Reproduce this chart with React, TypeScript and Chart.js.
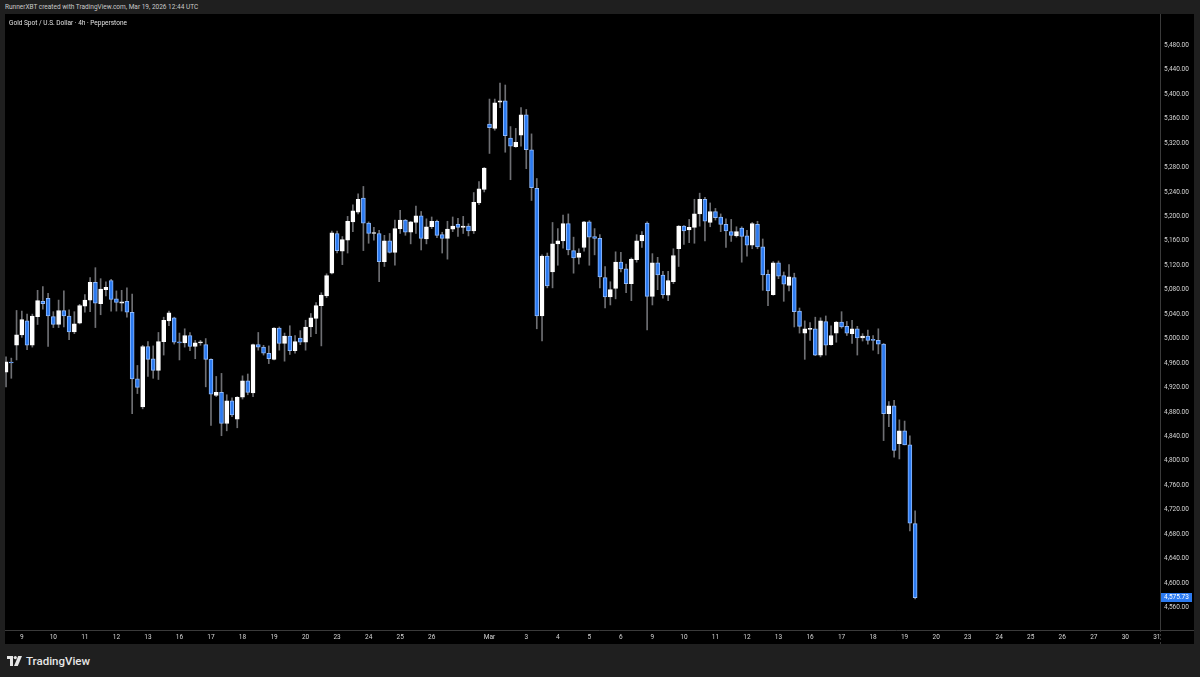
import React, { useEffect, useRef } from 'react';
import { Chart, registerables } from 'chart.js';

Chart.register(...registerables);

// ---- Data (4h candles, Feb 6 – Mar 19, 2026) ----
const opens = [
  4945, 4961.5, 4989, 5006, 5029, 4989, 5036, 5061, 5066, 5036,
  5023, 5046, 5037, 5011, 5025, 5053, 5063, 5092, 5057, 5080,
  5095, 5065, 5058, 5061, 5043, 4934, 4888, 4987, 4967, 4948,
  4995, 5029, 5034, 4994, 4993, 5005, 4987, 4993, 4990, 4966,
  4907, 4912, 4861, 4898, 4868, 4904, 4931, 4911, 4990, 4986,
  4976, 4966, 5017, 4992, 5004, 4980, 5001, 4994, 5019, 5033,
  5054, 5070, 5107, 5172, 5143, 5161, 5191, 5207, 5230, 5189,
  5172, 5172, 5126, 5160, 5141, 5180, 5194, 5174, 5190, 5201,
  5163, 5183, 5192, 5170, 5164, 5179, 5187, 5182, 5184, 5176,
  5222, 5244, 5351, 5344, 5387, 5389, 5328, 5314, 5333, 5366,
  5309, 5246, 5037, 5135, 5109, 5155, 5160, 5188, 5144, 5133,
  5149, 5191, 5167, 5164, 5100, 5068, 5082, 5125, 5114, 5090,
  5129, 5160, 5189, 5069, 5124, 5104, 5071, 5093, 5147, 5184,
  5178, 5182, 5204, 5228, 5190, 5208, 5199, 5187, 5175, 5168,
  5181, 5168, 5153, 5187, 5150, 5105, 5072, 5124, 5103, 5087,
  5100, 5045, 5009, 5015, 5016, 4973, 5028, 4990, 5009, 5027,
  5020, 5008, 5016, 5001, 5004, 4998, 4997, 4991, 4877, 4890,
  4828, 4849, 4826, 4697,
];
const highs = [
  4970, 4968, 5046, 5045, 5040, 5040, 5079, 5085, 5074, 5044,
  5063, 5078, 5047, 5044, 5056, 5072, 5100, 5116, 5098, 5093,
  5097, 5078, 5079, 5083, 5073, 4956, 4989, 4995, 4988, 5010,
  5035, 5045, 5035, 5009, 5016, 5010, 4997, 4997, 5000, 4967,
  4938, 4943, 4908, 4903, 4905, 4939, 4942, 4991, 5010, 4989,
  4988, 5018, 5019, 5009, 5021, 5005, 5013, 5030, 5041, 5059,
  5075, 5106, 5176, 5176, 5167, 5200, 5219, 5237, 5249, 5191,
  5182, 5177, 5169, 5172, 5194, 5210, 5195, 5192, 5217, 5208,
  5196, 5199, 5194, 5174, 5192, 5199, 5197, 5200, 5188, 5239,
  5257, 5280, 5392, 5392, 5418, 5415, 5347, 5344, 5378, 5375,
  5335, 5262, 5137, 5140, 5190, 5180, 5202, 5204, 5166, 5147,
  5192, 5193, 5180, 5170, 5118, 5093, 5142, 5141, 5122, 5132,
  5170, 5175, 5191, 5139, 5133, 5110, 5110, 5147, 5185, 5185,
  5195, 5228, 5238, 5231, 5222, 5213, 5204, 5196, 5195, 5183,
  5183, 5177, 5190, 5192, 5163, 5112, 5126, 5127, 5109, 5121,
  5107, 5050, 5029, 5026, 5035, 5034, 5037, 5021, 5028, 5044,
  5028, 5030, 5020, 5008, 5014, 5005, 5016, 4992, 4897, 4899,
  4867, 4865, 4841, 4718,
];
const lows = [
  4921, 4935, 4965, 5002, 4982, 4986, 5023, 5048, 4987, 5018,
  5018, 5019, 4998, 5008, 5024, 5043, 5044, 5018, 5039, 5070,
  5045, 5045, 5045, 5035, 4877, 4910, 4885, 4938, 4935, 4933,
  4973, 5021, 4991, 4965, 4986, 4980, 4967, 4989, 4921, 4858,
  4905, 4841, 4849, 4872, 4854, 4901, 4908, 4905, 4981, 4973,
  4959, 4965, 4981, 4963, 4974, 4976, 4990, 4981, 5003, 5008,
  4988, 5067, 5106, 5140, 5121, 5140, 5175, 5204, 5144, 5156,
  5161, 5093, 5118, 5140, 5120, 5172, 5169, 5155, 5172, 5145,
  5155, 5180, 5165, 5140, 5130, 5175, 5167, 5172, 5168, 5172,
  5219, 5240, 5303, 5341, 5378, 5305, 5260, 5313, 5315, 5278,
  5226, 5016, 4996, 5083, 5083, 5120, 5148, 5137, 5107, 5122,
  5143, 5120, 5137, 5083, 5050, 5055, 5065, 5109, 5075, 5062,
  5125, 5149, 5014, 5055, 5080, 5066, 5062, 5090, 5118, 5154,
  5157, 5156, 5184, 5160, 5183, 5194, 5175, 5149, 5159, 5166,
  5125, 5135, 5147, 5147, 5079, 5054, 5071, 5098, 5061, 5078,
  5019, 5009, 4966, 4997, 4972, 4970, 4973, 4989, 4994, 5017,
  5005, 4992, 4973, 4996, 4991, 4981, 4975, 4833, 4856, 4806,
  4803, 4826, 4685, 4574,
];
const closes = [
  4962, 4960, 5006, 5031, 4989, 5037, 5062, 5057, 5037, 5023,
  5046, 5037, 5011, 5024, 5054, 5063, 5092, 5058, 5081, 5084,
  5064, 5059, 5060, 5043, 4934, 4920, 4987, 4966, 4948, 4995,
  5030, 5042, 4994, 4993, 5005, 4987, 4993, 4993.5, 4966, 4909,
  4912, 4861, 4898, 4875, 4904, 4931, 4912, 4990, 4986, 4976,
  4967, 5017, 4992, 5004, 4980, 4995, 4994, 5019, 5034, 5054,
  5071, 5103, 5173, 5144, 5162, 5192, 5209, 5228, 5189, 5172,
  5172.5, 5126, 5160, 5141, 5180, 5194, 5174, 5191, 5201, 5164,
  5183, 5192, 5169, 5164, 5179, 5184, 5182, 5184, 5176, 5223,
  5245, 5279, 5345, 5386, 5389, 5332, 5315, 5321, 5366, 5309,
  5247, 5037, 5135, 5086, 5155, 5160, 5188, 5145, 5132, 5140,
  5191, 5166, 5164, 5101, 5068, 5080, 5125, 5114, 5090, 5130,
  5160, 5169, 5069, 5124, 5104, 5072, 5095, 5136, 5184, 5176,
  5182, 5204, 5228, 5192, 5208, 5198, 5187, 5176, 5169, 5175,
  5167, 5153, 5188, 5150, 5104, 5078, 5124, 5102, 5089, 5101,
  5044, 5020, 5016, 5016.5, 4973, 5029, 4989, 5005, 5027, 5019,
  5009, 5016, 5001, 5004, 4997, 4997, 4991, 4877, 4890, 4817,
  4849, 4826, 4698, 4575.73,
];

// time-axis ticks: bar index of the first bar of each labelled day
const dayTickIndex = [
  3, 9, 15, 21, 27, 33, 39, 45, 51, 57, 63, 69, 75, 81,
  92, 99, 105, 111, 117, 123, 129, 135, 141, 147, 153, 159, 165, 171,
  177, 183, 189, 195, 201, 207, 213, 219,
];
const dayTickLabels = [
  '9', '10', '11', '12', '13', '16', '17', '18', '19', '20', '23', '24', '25', '26',
  'Mar', '3', '4', '5', '6', '9', '10', '11', '12', '13', '16', '17', '18', '19',
  '20', '23', '24', '25', '26', '27', '30', '31',
];
const priceTicks = [
  4560, 4600, 4640, 4680, 4720, 4760, 4800, 4840, 4880, 4920, 4960, 5000,
  5040, 5080, 5120, 5160, 5200, 5240, 5280, 5320, 5360, 5400, 5440, 5480,
];

const UP_FILL = '#ffffff';
const DOWN_FILL = '#2b7af0';
const DOWN_BORDER = '#8fb9fb';
const WICK = '#6e6f73';
const LINE = '#3a3a3a';
const TXT = '#d6d6d6';
const FONT = 'Roboto, "Noto Sans", sans-serif';

const fmt = (v: number) =>
  v.toLocaleString('en-US', { minimumFractionDigits: 2, maximumFractionDigits: 2 });

const framePlugin = {
  id: 'frame',
  afterDraw(chart: any) {
    const { ctx, chartArea, width, height } = chart;
    ctx.save();
    ctx.strokeStyle = LINE;
    ctx.lineWidth = 1;
    ctx.beginPath();
    ctx.moveTo(0, Math.round(chartArea.bottom) + 0.5);
    ctx.lineTo(width, Math.round(chartArea.bottom) + 0.5);
    ctx.moveTo(Math.round(chartArea.right) + 0.5, 0);
    ctx.lineTo(Math.round(chartArea.right) + 0.5, chartArea.bottom);
    ctx.stroke();
    ctx.setLineDash([2, 2]);
    ctx.beginPath();
    ctx.moveTo(Math.round(chartArea.right) + 0.5, chartArea.bottom);
    ctx.lineTo(Math.round(chartArea.right) + 0.5, height);
    ctx.stroke();
    ctx.restore();
  },
};

const lastPricePlugin = {
  id: 'lastPrice',
  afterDraw(chart: any) {
    const { ctx, chartArea } = chart;
    const n = closes.length - 1;
    const last = closes[n];
    const y = chart.scales.y.getPixelForValue(last);
    ctx.save();
    ctx.fillStyle = last >= opens[n] ? UP_FILL : DOWN_FILL;
    ctx.fillRect(chartArea.right + 1, Math.round(y - 4.5), 31, 9);
    ctx.fillStyle = '#ffffff';
    ctx.font = `6.5px ${FONT}`;
    ctx.textBaseline = 'middle';
    ctx.textAlign = 'left';
    ctx.fillText(fmt(last), chartArea.right + 4, y);
    ctx.restore();
  },
};

function ChartCanvas() {
  const ref = useRef<HTMLCanvasElement>(null);
  useEffect(() => {
    const idx = opens.map((_, i) => i);
    const isUp = idx.map((i) => closes[i] >= opens[i]);
    const bodies = idx.map((i) => ({
      x: i,
      y: [Math.min(opens[i], closes[i]), Math.max(opens[i], closes[i])],
    }));
    const wicks = idx.map((i) => ({ x: i, y: [lows[i], highs[i]] }));

    const chart = new Chart(ref.current as HTMLCanvasElement, {
      type: 'bar',
      data: {
        datasets: [
          {
            data: bodies as any,
            backgroundColor: isUp.map((u) => (u ? UP_FILL : DOWN_FILL)),
            borderColor: isUp.map((u) => (u ? UP_FILL : DOWN_BORDER)),
            borderWidth: 1,
            borderSkipped: false,
            barThickness: 4,
            minBarLength: 1,
            grouped: false,
            order: 0,
          } as any,
          {
            data: wicks as any,
            backgroundColor: WICK,
            borderWidth: 0,
            barThickness: 1,
            grouped: false,
            order: 1,
          } as any,
        ],
      },
      options: {
        animation: false,
        responsive: false,
        maintainAspectRatio: false,
        events: [],
        layout: { padding: 0 },
        plugins: { legend: { display: false }, tooltip: { enabled: false } },
        scales: {
          x: {
            type: 'linear',
            min: -0.2,
            max: 219.6,
            offset: false,
            grid: { display: false, drawTicks: false, tickLength: 0 },
            border: { display: false },
            afterBuildTicks: (s: any) => {
              s.ticks = dayTickIndex.map((v) => ({ value: v }));
            },
            afterFit: (s: any) => {
              s.height = 14;
            },
            ticks: {
              autoSkip: false,
              maxRotation: 0,
              minRotation: 0,
              padding: 3,
              color: TXT,
              font: { family: FONT, size: 6.5 },
              callback: (v: any) => {
                const j = dayTickIndex.indexOf(Number(v));
                return j >= 0 ? dayTickLabels[j] : '';
              },
            },
          },
          y: {
            type: 'linear',
            position: 'right',
            min: 4523,
            max: 5518.3,
            grid: { display: false, drawTicks: false, tickLength: 0 },
            border: { display: false },
            afterBuildTicks: (s: any) => {
              s.ticks = priceTicks.map((v) => ({ value: v }));
            },
            afterFit: (s: any) => {
              s.width = 34;
            },
            ticks: {
              autoSkip: false,
              padding: 4,
              crossAlign: 'near',
              color: TXT,
              font: { family: FONT, size: 6.5 },
              callback: (v: any) => fmt(Number(v)),
            },
          },
        },
      } as any,
      plugins: [framePlugin, lastPricePlugin],
    });
    return () => chart.destroy();
  }, []);
  return <canvas ref={ref} width={1189} height={630} style={{ display: 'block' }} />;
}

export default function App() {
  useEffect(() => {
    document.body.style.margin = '0';
    document.body.style.background = '#1f1f1f';
  }, []);
  return (
    <div
      style={{
        position: 'relative',
        width: 1200,
        height: 677,
        background: '#1f1f1f',
        overflow: 'hidden',
        fontFamily: FONT,
      }}
    >
      <div
        style={{
          position: 'absolute',
          left: 5,
          top: 2,
          fontSize: 6.5,
          lineHeight: '10px',
          color: '#c9c9c9',
          whiteSpace: 'nowrap',
        }}
      >
        RunnerXBT created with TradingView.com, Mar 19, 2026 12:44 UTC
      </div>
      <div
        style={{
          position: 'absolute',
          left: 5,
          top: 14,
          width: 1189,
          height: 630,
          background: '#000000',
        }}
      >
        <ChartCanvas />
        <div
          style={{
            position: 'absolute',
            left: 4,
            top: 4,
            fontSize: 6.5,
            lineHeight: '10px',
            color: '#e0e0e0',
            whiteSpace: 'nowrap',
          }}
        >
          Gold Spot / U.S. Dollar · 4h · Pepperstone
        </div>
      </div>
      <div
        style={{
          position: 'absolute',
          left: 7,
          top: 654,
          height: 14,
          display: 'flex',
          alignItems: 'center',
          gap: 4,
          color: '#e6e6e6',
        }}
      >
        <svg width="15" height="10" viewBox="0 0 15 10">
          <path d="M0 0 H6 V10 H3 V3 H0 Z" fill="#e6e6e6" />
          <circle cx="8.3" cy="1.6" r="1.6" fill="#e6e6e6" />
          <path d="M11.2 0 H15 L10.8 10 H7 Z" fill="#e6e6e6" />
        </svg>
        <span style={{ fontSize: 11.5, fontWeight: 500, letterSpacing: 0 }}>TradingView</span>
      </div>
    </div>
  );
}
